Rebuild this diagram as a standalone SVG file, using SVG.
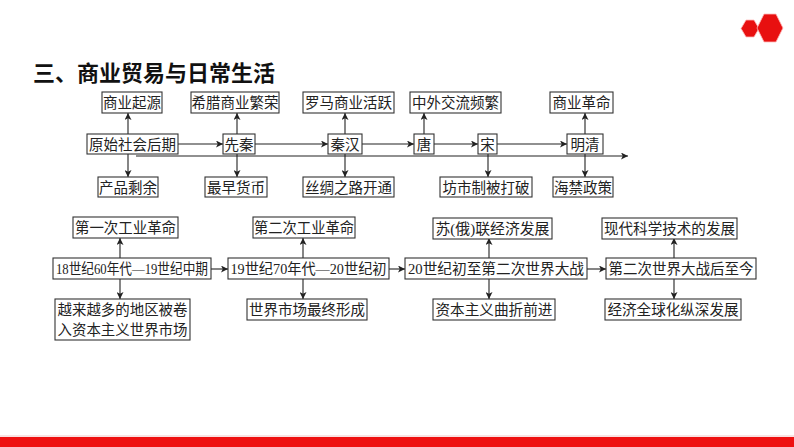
<svg xmlns="http://www.w3.org/2000/svg" width="794" height="447" viewBox="0 0 794 447">
<style>
.b{fill:#fff;stroke:#333;stroke-width:1.1}
.t{font-family:"Liberation Serif","Noto Sans CJK SC",serif;font-size:14.5px;fill:#222;text-anchor:middle}
.c{stroke:#222;stroke-width:1.1;fill:none}
.h{font-family:"Noto Sans CJK SC",sans-serif;font-size:22px;font-weight:bold;fill:#111}
</style>
<defs>
<marker id="a" viewBox="0 0 10 10" refX="10" refY="5" markerWidth="7" markerHeight="7" orient="auto" markerUnits="userSpaceOnUse">
<path d="M0,0 L10,5 L0,10 L2.5,5 z" fill="#222"/>
</marker>
</defs>
<rect width="794" height="447" fill="#fff"/>
<polygon points="746,20 754,20 759,28.5 754,37 746,37 741,28.5" fill="#e81010" stroke="#fbb" stroke-width="0.8"/>
<polygon points="764,14 776,14 783,28 776,42 764,42 757,28" fill="#e81010" stroke="#fbb" stroke-width="0.8"/>
<text class="h" x="33" y="81">三、商业贸易与日常生活</text>
<line x1="0" y1="436" x2="794" y2="436" stroke="#f3c6c6" stroke-width="1"/>
<rect x="0" y="437" width="794" height="10" fill="#ee1111"/>

<g id="connectors">
<line class="c" x1="136" y1="156" x2="628" y2="156" marker-end="url(#a)"/>
<line class="c" x1="178" y1="144" x2="223" y2="144" marker-end="url(#a)"/>
<line class="c" x1="255" y1="144" x2="328" y2="144" marker-end="url(#a)"/>
<line class="c" x1="362" y1="144" x2="414" y2="144" marker-end="url(#a)"/>
<line class="c" x1="434" y1="144" x2="478" y2="144" marker-end="url(#a)"/>
<line class="c" x1="497" y1="144" x2="567" y2="144" marker-end="url(#a)"/>
<line class="c" x1="128" y1="134" x2="128" y2="113" marker-end="url(#a)"/>
<line class="c" x1="128" y1="154" x2="128" y2="177" marker-end="url(#a)"/>
<line class="c" x1="237" y1="134" x2="237" y2="113" marker-end="url(#a)"/>
<line class="c" x1="237" y1="154" x2="237" y2="177" marker-end="url(#a)"/>
<line class="c" x1="345" y1="134" x2="345" y2="113" marker-end="url(#a)"/>
<line class="c" x1="345" y1="154" x2="345" y2="177" marker-end="url(#a)"/>
<line class="c" x1="424" y1="134" x2="424" y2="113" marker-end="url(#a)"/>
<line class="c" x1="488" y1="154" x2="488" y2="177" marker-end="url(#a)"/>
<line class="c" x1="585" y1="134" x2="585" y2="113" marker-end="url(#a)"/>
<line class="c" x1="585" y1="154" x2="585" y2="177" marker-end="url(#a)"/>
<line class="c" x1="211" y1="269" x2="228" y2="269" marker-end="url(#a)"/>
<line class="c" x1="389" y1="269" x2="405" y2="269" marker-end="url(#a)"/>
<line class="c" x1="587" y1="269" x2="606" y2="269" marker-end="url(#a)"/>
<line class="c" x1="120" y1="258" x2="120" y2="238" marker-end="url(#a)"/>
<line class="c" x1="120" y1="279" x2="120" y2="299" marker-end="url(#a)"/>
<line class="c" x1="303" y1="258" x2="303" y2="238" marker-end="url(#a)"/>
<line class="c" x1="303" y1="279" x2="303" y2="299" marker-end="url(#a)"/>
<line class="c" x1="489" y1="258" x2="489" y2="238" marker-end="url(#a)"/>
<line class="c" x1="489" y1="279" x2="489" y2="299" marker-end="url(#a)"/>
<line class="c" x1="674" y1="258" x2="674" y2="238" marker-end="url(#a)"/>
<line class="c" x1="674" y1="279" x2="674" y2="299" marker-end="url(#a)"/>
</g>

<g id="n1"><rect class="b" x="87" y="134" width="91" height="20"/><text class="t" x="132.5" y="149.5">原始社会后期</text></g>
<g id="n2"><rect class="b" x="223" y="134" width="32" height="20"/><text class="t" x="239" y="149.5">先秦</text></g>
<g id="n3"><rect class="b" x="328" y="134" width="34" height="20"/><text class="t" x="345" y="149.5">秦汉</text></g>
<g id="n4"><rect class="b" x="414" y="134" width="20" height="20"/><text class="t" x="424" y="149.5">唐</text></g>
<g id="n5"><rect class="b" x="478" y="134" width="19" height="20"/><text class="t" x="487.5" y="149.5">宋</text></g>
<g id="n6"><rect class="b" x="567" y="134" width="36" height="20"/><text class="t" x="585" y="149.5">明清</text></g>

<g id="u1"><rect class="b" x="102" y="92" width="60" height="21"/><text class="t" x="132" y="108">商业起源</text></g>
<g id="u2"><rect class="b" x="191" y="92" width="88" height="21"/><text class="t" x="235" y="108">希腊商业繁荣</text></g>
<g id="u3"><rect class="b" x="303" y="92" width="91" height="21"/><text class="t" x="348.5" y="108">罗马商业活跃</text></g>
<g id="u4"><rect class="b" x="410" y="92" width="91" height="21"/><text class="t" x="455.5" y="108">中外交流频繁</text></g>
<g id="u5"><rect class="b" x="550" y="92" width="63" height="21"/><text class="t" x="581.5" y="108">商业革命</text></g>

<g id="d1"><rect class="b" x="98" y="177" width="60" height="20"/><text class="t" x="128" y="192.5">产品剩余</text></g>
<g id="d2"><rect class="b" x="205" y="177" width="62" height="20"/><text class="t" x="236" y="192.5">最早货币</text></g>
<g id="d3"><rect class="b" x="303" y="177" width="91" height="20"/><text class="t" x="348.5" y="192.5">丝绸之路开通</text></g>
<g id="d4"><rect class="b" x="440" y="177" width="92" height="20"/><text class="t" x="486" y="192.5">坊市制被打破</text></g>
<g id="d5"><rect class="b" x="553" y="177" width="60" height="20"/><text class="t" x="583" y="192.5">海禁政策</text></g>

<g id="m1"><rect class="b" x="53" y="258" width="158" height="21"/><text class="t" x="132" y="274" textLength="152" lengthAdjust="spacingAndGlyphs">18世纪60年代—19世纪中期</text></g>
<g id="m2"><rect class="b" x="228" y="258" width="161" height="21"/><text class="t" x="308.5" y="274" textLength="156" lengthAdjust="spacingAndGlyphs">19世纪70年代—20世纪初</text></g>
<g id="m3"><rect class="b" x="405" y="258" width="182" height="21"/><text class="t" x="496" y="274" textLength="176" lengthAdjust="spacingAndGlyphs">20世纪初至第二次世界大战</text></g>
<g id="m4"><rect class="b" x="606" y="258" width="150" height="21"/><text class="t" x="681" y="274" textLength="145" lengthAdjust="spacingAndGlyphs">第二次世界大战后至今</text></g>

<g id="t1"><rect class="b" x="73" y="217" width="105" height="21"/><text class="t" x="125.5" y="233" textLength="101" lengthAdjust="spacingAndGlyphs">第一次工业革命</text></g>
<g id="t2"><rect class="b" x="253" y="217" width="102" height="21"/><text class="t" x="304" y="233" textLength="100" lengthAdjust="spacingAndGlyphs">第二次工业革命</text></g>
<g id="t3"><rect class="b" x="433" y="218" width="119" height="21"/><text class="t" x="492.5" y="234" textLength="114" lengthAdjust="spacingAndGlyphs">苏(俄)联经济发展</text></g>
<g id="t4"><rect class="b" x="602" y="218" width="135" height="21"/><text class="t" x="669.5" y="234" textLength="131" lengthAdjust="spacingAndGlyphs">现代科学技术的发展</text></g>

<g id="b1"><rect class="b" x="55" y="299" width="135" height="41"/><text class="t" x="122.5" y="315" textLength="130" lengthAdjust="spacingAndGlyphs">越来越多的地区被卷</text><text class="t" x="122.5" y="335" textLength="130" lengthAdjust="spacingAndGlyphs">入资本主义世界市场</text></g>
<g id="b2"><rect class="b" x="247" y="299" width="120" height="21"/><text class="t" x="307" y="315" textLength="116" lengthAdjust="spacingAndGlyphs">世界市场最终形成</text></g>
<g id="b3"><rect class="b" x="433" y="299" width="122" height="21"/><text class="t" x="494" y="315" textLength="117" lengthAdjust="spacingAndGlyphs">资本主义曲折前进</text></g>
<g id="b4"><rect class="b" x="605" y="299" width="136" height="21"/><text class="t" x="673" y="315" textLength="131" lengthAdjust="spacingAndGlyphs">经济全球化纵深发展</text></g>
</svg>
